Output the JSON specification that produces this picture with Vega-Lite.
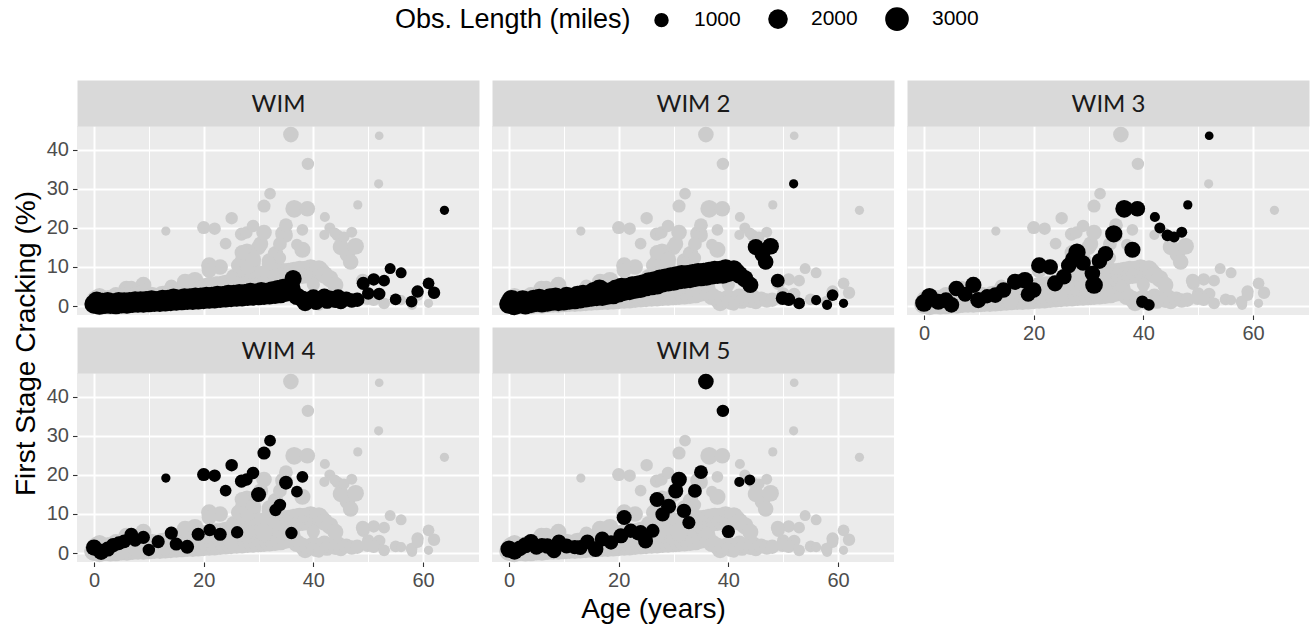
{
"$schema": "https://vega.github.io/schema/vega-lite/v6.json",
"padding": {"left": 12, "top": 6, "right": 5, "bottom": 5},
"datasets": {"pts": [
{"g":"WIM","age":0,"crack":0.5,"miles":1900},{"g":"WIM","age":0.5,"crack":1.2,"miles":2000},{"g":"WIM","age":1,"crack":0.3,"miles":2100},{"g":"WIM","age":1.5,"crack":0.9,"miles":2000},{"g":"WIM","age":2,"crack":0.4,"miles":1900},{"g":"WIM","age":2.5,"crack":1.1,"miles":2000},{"g":"WIM","age":3,"crack":0.5,"miles":2100},{"g":"WIM","age":3.5,"crack":0.8,"miles":1900},{"g":"WIM","age":4,"crack":0.4,"miles":2000},{"g":"WIM","age":4.5,"crack":1.0,"miles":2100},{"g":"WIM","age":5,"crack":0.6,"miles":2000},{"g":"WIM","age":5.5,"crack":1.1,"miles":1900},{"g":"WIM","age":6,"crack":0.5,"miles":2000},{"g":"WIM","age":6.5,"crack":1.0,"miles":2100},{"g":"WIM","age":7,"crack":0.7,"miles":2000},{"g":"WIM","age":7.5,"crack":1.3,"miles":1900},{"g":"WIM","age":8,"crack":0.8,"miles":2000},{"g":"WIM","age":8.5,"crack":1.2,"miles":2100},{"g":"WIM","age":9,"crack":0.8,"miles":2000},{"g":"WIM","age":9.5,"crack":1.4,"miles":1900},{"g":"WIM","age":10,"crack":0.9,"miles":2000},{"g":"WIM","age":10.5,"crack":1.5,"miles":2100},{"g":"WIM","age":11,"crack":1.0,"miles":2000},{"g":"WIM","age":11.5,"crack":1.4,"miles":1900},{"g":"WIM","age":12,"crack":1.0,"miles":2000},{"g":"WIM","age":12.5,"crack":1.6,"miles":2100},{"g":"WIM","age":13,"crack":1.1,"miles":2000},{"g":"WIM","age":13.5,"crack":1.7,"miles":1900},{"g":"WIM","age":14,"crack":1.2,"miles":2000},{"g":"WIM","age":14.5,"crack":1.9,"miles":2100},{"g":"WIM","age":15,"crack":1.3,"miles":2000},{"g":"WIM","age":15.5,"crack":1.8,"miles":1900},{"g":"WIM","age":16,"crack":1.4,"miles":2000},{"g":"WIM","age":16.5,"crack":2.0,"miles":2100},{"g":"WIM","age":17,"crack":1.5,"miles":2000},{"g":"WIM","age":17.5,"crack":2.1,"miles":1900},{"g":"WIM","age":18,"crack":1.5,"miles":2000},{"g":"WIM","age":18.5,"crack":2.2,"miles":2100},{"g":"WIM","age":19,"crack":1.6,"miles":2000},{"g":"WIM","age":19.5,"crack":2.3,"miles":1900},{"g":"WIM","age":20,"crack":1.7,"miles":2000},{"g":"WIM","age":20.5,"crack":2.4,"miles":2100},{"g":"WIM","age":21,"crack":1.8,"miles":2000},{"g":"WIM","age":21.5,"crack":2.5,"miles":1900},{"g":"WIM","age":22,"crack":1.9,"miles":2000},{"g":"WIM","age":22.5,"crack":2.6,"miles":2100},{"g":"WIM","age":23,"crack":2.0,"miles":2000},{"g":"WIM","age":23.5,"crack":2.7,"miles":1900},{"g":"WIM","age":24,"crack":2.1,"miles":2000},{"g":"WIM","age":24.5,"crack":2.9,"miles":2100},{"g":"WIM","age":25,"crack":2.2,"miles":2000},{"g":"WIM","age":25.5,"crack":3.0,"miles":1900},{"g":"WIM","age":26,"crack":2.3,"miles":2000},{"g":"WIM","age":26.5,"crack":3.1,"miles":2100},{"g":"WIM","age":27,"crack":2.4,"miles":2000},{"g":"WIM","age":27.5,"crack":3.2,"miles":1900},{"g":"WIM","age":28,"crack":2.5,"miles":2000},{"g":"WIM","age":28.5,"crack":3.4,"miles":2100},{"g":"WIM","age":29,"crack":2.6,"miles":2000},{"g":"WIM","age":29.5,"crack":3.3,"miles":1900},{"g":"WIM","age":30,"crack":2.7,"miles":2000},{"g":"WIM","age":30.5,"crack":3.6,"miles":2100},{"g":"WIM","age":31,"crack":2.8,"miles":2000},{"g":"WIM","age":31.5,"crack":3.5,"miles":1900},{"g":"WIM","age":32,"crack":2.9,"miles":2000},{"g":"WIM","age":32.5,"crack":3.8,"miles":2100},{"g":"WIM","age":33,"crack":3.0,"miles":2000},{"g":"WIM","age":33.5,"crack":4.2,"miles":1900},{"g":"WIM","age":34,"crack":3.2,"miles":2000},{"g":"WIM","age":34.5,"crack":4.5,"miles":1900},{"g":"WIM","age":35,"crack":3.5,"miles":1800},{"g":"WIM","age":36,"crack":4.6,"miles":1700},{"g":"WIM","age":36.3,"crack":7.0,"miles":1500},{"g":"WIM","age":37,"crack":2.5,"miles":1600},{"g":"WIM","age":38,"crack":1.8,"miles":1500},{"g":"WIM","age":38.5,"crack":0.8,"miles":1400},{"g":"WIM","age":39,"crack":1.5,"miles":1400},{"g":"WIM","age":40,"crack":2.2,"miles":1300},{"g":"WIM","age":40.5,"crack":1.0,"miles":1200},{"g":"WIM","age":41,"crack":1.8,"miles":1300},{"g":"WIM","age":42,"crack":2.5,"miles":1200},{"g":"WIM","age":42.5,"crack":1.2,"miles":1100},{"g":"WIM","age":43,"crack":2.0,"miles":1200},{"g":"WIM","age":44,"crack":1.4,"miles":1100},{"g":"WIM","age":44.5,"crack":2.3,"miles":1200},{"g":"WIM","age":45,"crack":1.0,"miles":1000},{"g":"WIM","age":46,"crack":1.8,"miles":1100},{"g":"WIM","age":47,"crack":1.4,"miles":1000},{"g":"WIM","age":48,"crack":1.6,"miles":1000},{"g":"WIM","age":49.1,"crack":5.8,"miles":800},{"g":"WIM","age":50,"crack":3.2,"miles":700},{"g":"WIM","age":51,"crack":6.8,"miles":700},{"g":"WIM","age":52,"crack":3.1,"miles":700},{"g":"WIM","age":52.9,"crack":6.5,"miles":600},{"g":"WIM","age":54,"crack":9.6,"miles":500},{"g":"WIM","age":55,"crack":1.7,"miles":600},{"g":"WIM","age":56,"crack":8.5,"miles":500},{"g":"WIM","age":57.9,"crack":1.1,"miles":600},{"g":"WIM","age":59,"crack":3.7,"miles":700},{"g":"WIM","age":61,"crack":5.8,"miles":600},{"g":"WIM","age":62,"crack":3.4,"miles":700},{"g":"WIM","age":63.9,"crack":24.5,"miles":300},
{"g":"WIM 2","age":0,"crack":0.5,"miles":2000},{"g":"WIM 2","age":0.5,"crack":1.5,"miles":2200},{"g":"WIM 2","age":1,"crack":0.2,"miles":2100},{"g":"WIM 2","age":1.5,"crack":1.0,"miles":2300},{"g":"WIM 2","age":2,"crack":0.6,"miles":2000},{"g":"WIM 2","age":2.5,"crack":1.4,"miles":2200},{"g":"WIM 2","age":3,"crack":0.4,"miles":2100},{"g":"WIM 2","age":3.5,"crack":1.2,"miles":2000},{"g":"WIM 2","age":4,"crack":0.8,"miles":2200},{"g":"WIM 2","age":4.5,"crack":1.6,"miles":2100},{"g":"WIM 2","age":5,"crack":1.0,"miles":2000},{"g":"WIM 2","age":5.5,"crack":1.8,"miles":2200},{"g":"WIM 2","age":6,"crack":0.9,"miles":2100},{"g":"WIM 2","age":6.5,"crack":1.5,"miles":2000},{"g":"WIM 2","age":7,"crack":1.1,"miles":2100},{"g":"WIM 2","age":7.5,"crack":1.9,"miles":2200},{"g":"WIM 2","age":8,"crack":1.3,"miles":2000},{"g":"WIM 2","age":8.5,"crack":2.2,"miles":2100},{"g":"WIM 2","age":9,"crack":1.2,"miles":2000},{"g":"WIM 2","age":9.5,"crack":1.8,"miles":2100},{"g":"WIM 2","age":10,"crack":1.5,"miles":2200},{"g":"WIM 2","age":10.5,"crack":2.4,"miles":2000},{"g":"WIM 2","age":11,"crack":1.6,"miles":2100},{"g":"WIM 2","age":11.5,"crack":2.2,"miles":2000},{"g":"WIM 2","age":12,"crack":1.8,"miles":2200},{"g":"WIM 2","age":12.5,"crack":2.6,"miles":2100},{"g":"WIM 2","age":13,"crack":1.9,"miles":2000},{"g":"WIM 2","age":13.5,"crack":2.8,"miles":2200},{"g":"WIM 2","age":14,"crack":2.1,"miles":2000},{"g":"WIM 2","age":14.5,"crack":2.6,"miles":2100},{"g":"WIM 2","age":15,"crack":2.3,"miles":2000},{"g":"WIM 2","age":15.5,"crack":3.5,"miles":2300},{"g":"WIM 2","age":16,"crack":2.5,"miles":2100},{"g":"WIM 2","age":16.5,"crack":4.2,"miles":2200},{"g":"WIM 2","age":17,"crack":2.6,"miles":2200},{"g":"WIM 2","age":17.5,"crack":3.4,"miles":2000},{"g":"WIM 2","age":18,"crack":2.9,"miles":2100},{"g":"WIM 2","age":18.5,"crack":3.6,"miles":2000},{"g":"WIM 2","age":19,"crack":3.1,"miles":2200},{"g":"WIM 2","age":19.5,"crack":4.2,"miles":2100},{"g":"WIM 2","age":20,"crack":3.4,"miles":2000},{"g":"WIM 2","age":20.5,"crack":4.6,"miles":2200},{"g":"WIM 2","age":21,"crack":3.8,"miles":2000},{"g":"WIM 2","age":21.5,"crack":4.6,"miles":2100},{"g":"WIM 2","age":22,"crack":4.0,"miles":2000},{"g":"WIM 2","age":22.5,"crack":5.0,"miles":2200},{"g":"WIM 2","age":23,"crack":4.4,"miles":2100},{"g":"WIM 2","age":23.5,"crack":5.3,"miles":2000},{"g":"WIM 2","age":24,"crack":4.7,"miles":2200},{"g":"WIM 2","age":24.5,"crack":5.6,"miles":2100},{"g":"WIM 2","age":25,"crack":5.0,"miles":2000},{"g":"WIM 2","age":25.5,"crack":6.0,"miles":2200},{"g":"WIM 2","age":26,"crack":5.3,"miles":2100},{"g":"WIM 2","age":26.5,"crack":6.4,"miles":2000},{"g":"WIM 2","age":27,"crack":5.6,"miles":2200},{"g":"WIM 2","age":27.5,"crack":6.8,"miles":2100},{"g":"WIM 2","age":28,"crack":6.0,"miles":2000},{"g":"WIM 2","age":28.5,"crack":7.0,"miles":2200},{"g":"WIM 2","age":29,"crack":6.3,"miles":2100},{"g":"WIM 2","age":29.5,"crack":7.4,"miles":2000},{"g":"WIM 2","age":30,"crack":6.5,"miles":2200},{"g":"WIM 2","age":30.5,"crack":7.6,"miles":2100},{"g":"WIM 2","age":31,"crack":6.8,"miles":2000},{"g":"WIM 2","age":31.5,"crack":7.9,"miles":2200},{"g":"WIM 2","age":32,"crack":7.0,"miles":2100},{"g":"WIM 2","age":32.5,"crack":8.0,"miles":2000},{"g":"WIM 2","age":33,"crack":7.2,"miles":2200},{"g":"WIM 2","age":33.5,"crack":8.2,"miles":2100},{"g":"WIM 2","age":34,"crack":7.4,"miles":2000},{"g":"WIM 2","age":34.5,"crack":8.4,"miles":2200},{"g":"WIM 2","age":35,"crack":7.6,"miles":2100},{"g":"WIM 2","age":35.5,"crack":8.6,"miles":2000},{"g":"WIM 2","age":36,"crack":7.8,"miles":2200},{"g":"WIM 2","age":36.5,"crack":8.8,"miles":2100},{"g":"WIM 2","age":37,"crack":8.0,"miles":2000},{"g":"WIM 2","age":37.5,"crack":9.0,"miles":2200},{"g":"WIM 2","age":38,"crack":8.2,"miles":2100},{"g":"WIM 2","age":38.5,"crack":9.1,"miles":2000},{"g":"WIM 2","age":39,"crack":8.3,"miles":2200},{"g":"WIM 2","age":39.5,"crack":9.4,"miles":2100},{"g":"WIM 2","age":40,"crack":8.6,"miles":2000},{"g":"WIM 2","age":40.5,"crack":9.0,"miles":1900},{"g":"WIM 2","age":41,"crack":9.3,"miles":1800},{"g":"WIM 2","age":41.5,"crack":8.6,"miles":1700},{"g":"WIM 2","age":42,"crack":8.0,"miles":1600},{"g":"WIM 2","age":43,"crack":7.0,"miles":1500},{"g":"WIM 2","age":44,"crack":5.4,"miles":1300},{"g":"WIM 2","age":45,"crack":15.1,"miles":1300},{"g":"WIM 2","age":46.2,"crack":13.2,"miles":1200},{"g":"WIM 2","age":46.8,"crack":11.3,"miles":1200},{"g":"WIM 2","age":47.7,"crack":15.3,"miles":1400},{"g":"WIM 2","age":49,"crack":6.5,"miles":900},{"g":"WIM 2","age":49.9,"crack":2.0,"miles":900},{"g":"WIM 2","age":51,"crack":1.7,"miles":800},{"g":"WIM 2","age":51.9,"crack":31.3,"miles":300},{"g":"WIM 2","age":52.9,"crack":0.7,"miles":600},{"g":"WIM 2","age":56,"crack":1.5,"miles":400},{"g":"WIM 2","age":58,"crack":0.3,"miles":400},{"g":"WIM 2","age":59,"crack":2.8,"miles":600},{"g":"WIM 2","age":61,"crack":0.7,"miles":300},
{"g":"WIM 3","age":0,"crack":0.8,"miles":1600},{"g":"WIM 3","age":1,"crack":2.4,"miles":1500},{"g":"WIM 3","age":2.6,"crack":1.1,"miles":1300},{"g":"WIM 3","age":4,"crack":1.5,"miles":1200},{"g":"WIM 3","age":5,"crack":0.3,"miles":1200},{"g":"WIM 3","age":5.9,"crack":4.5,"miles":1200},{"g":"WIM 3","age":7.5,"crack":3.0,"miles":1100},{"g":"WIM 3","age":9,"crack":5.4,"miles":1300},{"g":"WIM 3","age":9.9,"crack":1.5,"miles":1300},{"g":"WIM 3","age":11.5,"crack":2.5,"miles":1000},{"g":"WIM 3","age":13,"crack":2.8,"miles":1200},{"g":"WIM 3","age":14.5,"crack":4.1,"miles":1200},{"g":"WIM 3","age":16.6,"crack":6.2,"miles":1300},{"g":"WIM 3","age":18.4,"crack":6.6,"miles":1400},{"g":"WIM 3","age":19,"crack":3.0,"miles":1100},{"g":"WIM 3","age":20,"crack":4.1,"miles":1200},{"g":"WIM 3","age":21,"crack":10.4,"miles":1300},{"g":"WIM 3","age":23,"crack":10.0,"miles":1200},{"g":"WIM 3","age":23.9,"crack":5.8,"miles":1300},{"g":"WIM 3","age":25.5,"crack":7.5,"miles":1200},{"g":"WIM 3","age":26.4,"crack":10.4,"miles":1200},{"g":"WIM 3","age":27.2,"crack":12.0,"miles":1300},{"g":"WIM 3","age":27.9,"crack":13.8,"miles":1500},{"g":"WIM 3","age":29,"crack":11.0,"miles":1200},{"g":"WIM 3","age":30.7,"crack":8.3,"miles":1200},{"g":"WIM 3","age":31,"crack":5.4,"miles":1600},{"g":"WIM 3","age":32,"crack":11.5,"miles":1200},{"g":"WIM 3","age":33.1,"crack":13.4,"miles":1200},{"g":"WIM 3","age":34.6,"crack":18.5,"miles":1500},{"g":"WIM 3","age":36.5,"crack":24.9,"miles":1600},{"g":"WIM 3","age":38,"crack":14.4,"miles":1300},{"g":"WIM 3","age":38.9,"crack":24.9,"miles":1200},{"g":"WIM 3","age":39.8,"crack":1.1,"miles":700},{"g":"WIM 3","age":41,"crack":0.3,"miles":600},{"g":"WIM 3","age":42.1,"crack":22.8,"miles":400},{"g":"WIM 3","age":43,"crack":20.0,"miles":500},{"g":"WIM 3","age":44.4,"crack":18.1,"miles":600},{"g":"WIM 3","age":45.6,"crack":17.7,"miles":500},{"g":"WIM 3","age":47,"crack":18.9,"miles":500},{"g":"WIM 3","age":48.1,"crack":25.9,"miles":300},{"g":"WIM 3","age":52,"crack":43.6,"miles":250},
{"g":"WIM 4","age":0,"crack":1.4,"miles":1300},{"g":"WIM 4","age":1.3,"crack":0.3,"miles":1300},{"g":"WIM 4","age":2.5,"crack":1.0,"miles":1100},{"g":"WIM 4","age":3.5,"crack":2.0,"miles":1000},{"g":"WIM 4","age":4.5,"crack":2.5,"miles":900},{"g":"WIM 4","age":5.5,"crack":3.0,"miles":900},{"g":"WIM 4","age":6.8,"crack":4.7,"miles":900},{"g":"WIM 4","age":7.5,"crack":3.3,"miles":800},{"g":"WIM 4","age":9,"crack":4.0,"miles":800},{"g":"WIM 4","age":10,"crack":0.8,"miles":700},{"g":"WIM 4","age":11.7,"crack":2.9,"miles":800},{"g":"WIM 4","age":13.1,"crack":19.2,"miles":300},{"g":"WIM 4","age":14.1,"crack":5.1,"miles":800},{"g":"WIM 4","age":15,"crack":2.3,"miles":800},{"g":"WIM 4","age":17,"crack":1.6,"miles":900},{"g":"WIM 4","age":19,"crack":4.8,"miles":800},{"g":"WIM 4","age":20,"crack":20.1,"miles":800},{"g":"WIM 4","age":21.1,"crack":5.9,"miles":700},{"g":"WIM 4","age":22,"crack":19.8,"miles":700},{"g":"WIM 4","age":23,"crack":4.8,"miles":800},{"g":"WIM 4","age":24,"crack":16.0,"miles":600},{"g":"WIM 4","age":25.1,"crack":22.5,"miles":700},{"g":"WIM 4","age":26.1,"crack":5.3,"miles":700},{"g":"WIM 4","age":26.9,"crack":18.4,"miles":800},{"g":"WIM 4","age":27.8,"crack":18.8,"miles":700},{"g":"WIM 4","age":29,"crack":20.5,"miles":700},{"g":"WIM 4","age":30,"crack":15.0,"miles":1100},{"g":"WIM 4","age":31,"crack":25.6,"miles":800},{"g":"WIM 4","age":32.1,"crack":28.8,"miles":600},{"g":"WIM 4","age":33.1,"crack":11.0,"miles":700},{"g":"WIM 4","age":33.9,"crack":12.3,"miles":700},{"g":"WIM 4","age":35,"crack":18.0,"miles":900},{"g":"WIM 4","age":36,"crack":5.1,"miles":700},{"g":"WIM 4","age":37,"crack":15.7,"miles":600},{"g":"WIM 4","age":38,"crack":19.5,"miles":600},
{"g":"WIM 5","age":0,"crack":1.0,"miles":1500},{"g":"WIM 5","age":1,"crack":0.4,"miles":1400},{"g":"WIM 5","age":2,"crack":1.2,"miles":1200},{"g":"WIM 5","age":3,"crack":2.0,"miles":1300},{"g":"WIM 5","age":4,"crack":2.9,"miles":1200},{"g":"WIM 5","age":5,"crack":1.5,"miles":1100},{"g":"WIM 5","age":6,"crack":2.0,"miles":1000},{"g":"WIM 5","age":7,"crack":1.8,"miles":1200},{"g":"WIM 5","age":8.2,"crack":0.6,"miles":1100},{"g":"WIM 5","age":9.1,"crack":2.9,"miles":1000},{"g":"WIM 5","age":10.5,"crack":1.8,"miles":1100},{"g":"WIM 5","age":12,"crack":1.5,"miles":1000},{"g":"WIM 5","age":13,"crack":1.4,"miles":1100},{"g":"WIM 5","age":14.3,"crack":2.9,"miles":1000},{"g":"WIM 5","age":15.8,"crack":1.0,"miles":1200},{"g":"WIM 5","age":17,"crack":3.6,"miles":1100},{"g":"WIM 5","age":18.6,"crack":2.7,"miles":1000},{"g":"WIM 5","age":20.4,"crack":4.4,"miles":1100},{"g":"WIM 5","age":21,"crack":9.1,"miles":1100},{"g":"WIM 5","age":22.2,"crack":5.7,"miles":1000},{"g":"WIM 5","age":23.5,"crack":5.0,"miles":900},{"g":"WIM 5","age":24,"crack":5.3,"miles":1000},{"g":"WIM 5","age":24.9,"crack":3.1,"miles":1100},{"g":"WIM 5","age":26.2,"crack":5.7,"miles":900},{"g":"WIM 5","age":27,"crack":13.7,"miles":1100},{"g":"WIM 5","age":28,"crack":9.9,"miles":1000},{"g":"WIM 5","age":29.1,"crack":12.0,"miles":1100},{"g":"WIM 5","age":30.4,"crack":15.9,"miles":1100},{"g":"WIM 5","age":31,"crack":18.8,"miles":1200},{"g":"WIM 5","age":31.9,"crack":10.8,"miles":1000},{"g":"WIM 5","age":32.8,"crack":7.8,"miles":800},{"g":"WIM 5","age":33.9,"crack":15.9,"miles":900},{"g":"WIM 5","age":35,"crack":20.7,"miles":900},{"g":"WIM 5","age":35.9,"crack":43.9,"miles":1200},{"g":"WIM 5","age":39,"crack":36.4,"miles":700},{"g":"WIM 5","age":40,"crack":5.5,"miles":800},{"g":"WIM 5","age":42,"crack":18.2,"miles":400},{"g":"WIM 5","age":43.9,"crack":18.7,"miles":500}
]},
"columns": 3,
"spacing": {"row": 58, "column": 13},
"bounds": "flush",
"resolve": {"scale": {"size": "shared"}, "legend": {"size": "shared"}},
"concat": [
{"width": 402, "height": 189, "resolve": {"axis": {"x": "independent"}}, "layer": [
 {"data": {"name": "pts"}, "mark": {"type": "circle", "opacity": 1}, "encoding": {
  "x": {"field": "age", "type": "quantitative", "scale": {"domain": [-3.1, 70.2], "nice": false, "zero": false}, "axis": {"values": [0,10,20,30,40,50,60], "grid": true, "gridWidth": {"condition": {"test": "datum.value % 20 === 0", "value": 2}, "value": 1}, "labels": false, "ticks": false, "title": null}},
  "y": {"field": "crack", "type": "quantitative", "scale": {"domain": [-2.3, 46.1], "nice": false, "zero": false}, "axis": {"values": [0,5,10,15,20,25,30,35,40,45], "grid": true, "gridWidth": {"condition": {"test": "datum.value % 10 === 0", "value": 2}, "value": 1}, "labelExpr": "datum.value % 10 === 0 ? datum.label : ''", "tickOpacity": {"condition": {"test": "datum.value % 10 === 0", "value": 1}, "value": 0}, "title": "First Stage Cracking (%)", "titleY": 217, "titlePadding": 6}},
  "color": {"field": "g", "type": "nominal", "scale": {"range": ["#CCCCCC"]}, "legend": null},
  "size": {"field": "miles", "type": "quantitative", "title": "Obs. Length (miles)", "scale": {"domain": [0, 3000], "range": [32, 560]}, "legend": {"values": [1000, 2000, 3000], "format": "d", "orient": "none", "legendX": 318, "legendY": -120, "direction": "horizontal", "titleOrient": "left", "titleLimit": 600, "titlePadding": 20, "labelOffset": 22, "columnPadding": 24, "symbolFillColor": "#000000", "symbolStrokeColor": "#000000", "symbolOpacity": 1}}}},
 {"data": {"name": "pts"}, "transform": [{"filter": "datum.g === 'WIM'"}], "mark": {"type": "circle", "opacity": 1, "color": "#000000"}, "encoding": {
  "x": {"field": "age", "type": "quantitative", "scale": {"domain": [-3.1, 70.2], "nice": false, "zero": false}, "axis": {"orient": "top", "offset": 23, "domain": true, "domainWidth": 46, "domainColor": "#D9D9D9", "ticks": false, "labels": false, "grid": false, "title": "WIM", "titleFont": "Lato", "titleFontSize": 24, "titleColor": "#1A1A1A", "titleBaseline": "middle", "titleY": 1}},
  "y": {"field": "crack", "type": "quantitative", "scale": {"domain": [-2.3, 46.1], "nice": false, "zero": false}},
  "size": {"field": "miles", "type": "quantitative", "title": "Obs. Length (miles)", "scale": {"domain": [0, 3000], "range": [32, 560]}}}}
]},
{"width": 402, "height": 189, "resolve": {"axis": {"x": "independent"}}, "layer": [
 {"data": {"name": "pts"}, "mark": {"type": "circle", "opacity": 1}, "encoding": {
  "x": {"field": "age", "type": "quantitative", "scale": {"domain": [-3.1, 70.2], "nice": false, "zero": false}, "axis": {"values": [0,10,20,30,40,50,60], "grid": true, "gridWidth": {"condition": {"test": "datum.value % 20 === 0", "value": 2}, "value": 1}, "labels": false, "ticks": false, "title": null}},
  "y": {"field": "crack", "type": "quantitative", "scale": {"domain": [-2.3, 46.1], "nice": false, "zero": false}, "axis": {"values": [0,5,10,15,20,25,30,35,40,45], "grid": true, "gridWidth": {"condition": {"test": "datum.value % 10 === 0", "value": 2}, "value": 1}, "labels": false, "ticks": false, "title": null}},
  "color": {"field": "g", "type": "nominal", "scale": {"range": ["#CCCCCC"]}, "legend": null},
  "size": {"field": "miles", "type": "quantitative", "title": "Obs. Length (miles)", "scale": {"domain": [0, 3000], "range": [32, 560]}}}},
 {"data": {"name": "pts"}, "transform": [{"filter": "datum.g === 'WIM 2'"}], "mark": {"type": "circle", "opacity": 1, "color": "#000000"}, "encoding": {
  "x": {"field": "age", "type": "quantitative", "scale": {"domain": [-3.1, 70.2], "nice": false, "zero": false}, "axis": {"orient": "top", "offset": 23, "domain": true, "domainWidth": 46, "domainColor": "#D9D9D9", "ticks": false, "labels": false, "grid": false, "title": "WIM 2", "titleFont": "Lato", "titleFontSize": 24, "titleColor": "#1A1A1A", "titleBaseline": "middle", "titleY": 1}},
  "y": {"field": "crack", "type": "quantitative", "scale": {"domain": [-2.3, 46.1], "nice": false, "zero": false}},
  "size": {"field": "miles", "type": "quantitative", "title": "Obs. Length (miles)", "scale": {"domain": [0, 3000], "range": [32, 560]}}}}
]},
{"width": 402, "height": 189, "resolve": {"axis": {"x": "independent"}}, "layer": [
 {"data": {"name": "pts"}, "mark": {"type": "circle", "opacity": 1}, "encoding": {
  "x": {"field": "age", "type": "quantitative", "scale": {"domain": [-3.1, 70.2], "nice": false, "zero": false}, "axis": {"values": [0,10,20,30,40,50,60], "grid": true, "gridWidth": {"condition": {"test": "datum.value % 20 === 0", "value": 2}, "value": 1}, "labelExpr": "datum.value % 20 === 0 ? datum.label : ''", "tickOpacity": {"condition": {"test": "datum.value % 20 === 0", "value": 1}, "value": 0}, "title": null}},
  "y": {"field": "crack", "type": "quantitative", "scale": {"domain": [-2.3, 46.1], "nice": false, "zero": false}, "axis": {"values": [0,5,10,15,20,25,30,35,40,45], "grid": true, "gridWidth": {"condition": {"test": "datum.value % 10 === 0", "value": 2}, "value": 1}, "labels": false, "ticks": false, "title": null}},
  "color": {"field": "g", "type": "nominal", "scale": {"range": ["#CCCCCC"]}, "legend": null},
  "size": {"field": "miles", "type": "quantitative", "title": "Obs. Length (miles)", "scale": {"domain": [0, 3000], "range": [32, 560]}}}},
 {"data": {"name": "pts"}, "transform": [{"filter": "datum.g === 'WIM 3'"}], "mark": {"type": "circle", "opacity": 1, "color": "#000000"}, "encoding": {
  "x": {"field": "age", "type": "quantitative", "scale": {"domain": [-3.1, 70.2], "nice": false, "zero": false}, "axis": {"orient": "top", "offset": 23, "domain": true, "domainWidth": 46, "domainColor": "#D9D9D9", "ticks": false, "labels": false, "grid": false, "title": "WIM 3", "titleFont": "Lato", "titleFontSize": 24, "titleColor": "#1A1A1A", "titleBaseline": "middle", "titleY": 1}},
  "y": {"field": "crack", "type": "quantitative", "scale": {"domain": [-2.3, 46.1], "nice": false, "zero": false}},
  "size": {"field": "miles", "type": "quantitative", "title": "Obs. Length (miles)", "scale": {"domain": [0, 3000], "range": [32, 560]}}}}
]},
{"width": 402, "height": 189, "resolve": {"axis": {"x": "independent"}}, "layer": [
 {"data": {"name": "pts"}, "mark": {"type": "circle", "opacity": 1}, "encoding": {
  "x": {"field": "age", "type": "quantitative", "scale": {"domain": [-3.1, 70.2], "nice": false, "zero": false}, "axis": {"values": [0,10,20,30,40,50,60], "grid": true, "gridWidth": {"condition": {"test": "datum.value % 20 === 0", "value": 2}, "value": 1}, "labelExpr": "datum.value % 20 === 0 ? datum.label : ''", "tickOpacity": {"condition": {"test": "datum.value % 20 === 0", "value": 1}, "value": 0}, "title": null}},
  "y": {"field": "crack", "type": "quantitative", "scale": {"domain": [-2.3, 46.1], "nice": false, "zero": false}, "axis": {"values": [0,5,10,15,20,25,30,35,40,45], "grid": true, "gridWidth": {"condition": {"test": "datum.value % 10 === 0", "value": 2}, "value": 1}, "labelExpr": "datum.value % 10 === 0 ? datum.label : ''", "tickOpacity": {"condition": {"test": "datum.value % 10 === 0", "value": 1}, "value": 0}, "title": null}},
  "color": {"field": "g", "type": "nominal", "scale": {"range": ["#CCCCCC"]}, "legend": null},
  "size": {"field": "miles", "type": "quantitative", "title": "Obs. Length (miles)", "scale": {"domain": [0, 3000], "range": [32, 560]}}}},
 {"data": {"name": "pts"}, "transform": [{"filter": "datum.g === 'WIM 4'"}], "mark": {"type": "circle", "opacity": 1, "color": "#000000"}, "encoding": {
  "x": {"field": "age", "type": "quantitative", "scale": {"domain": [-3.1, 70.2], "nice": false, "zero": false}, "axis": {"orient": "top", "offset": 23, "domain": true, "domainWidth": 46, "domainColor": "#D9D9D9", "ticks": false, "labels": false, "grid": false, "title": "WIM 4", "titleFont": "Lato", "titleFontSize": 24, "titleColor": "#1A1A1A", "titleBaseline": "middle", "titleY": 1}},
  "y": {"field": "crack", "type": "quantitative", "scale": {"domain": [-2.3, 46.1], "nice": false, "zero": false}},
  "size": {"field": "miles", "type": "quantitative", "title": "Obs. Length (miles)", "scale": {"domain": [0, 3000], "range": [32, 560]}}}}
]},
{"width": 402, "height": 189, "resolve": {"axis": {"x": "independent"}}, "layer": [
 {"data": {"name": "pts"}, "mark": {"type": "circle", "opacity": 1}, "encoding": {
  "x": {"field": "age", "type": "quantitative", "scale": {"domain": [-3.1, 70.2], "nice": false, "zero": false}, "axis": {"values": [0,10,20,30,40,50,60], "grid": true, "gridWidth": {"condition": {"test": "datum.value % 20 === 0", "value": 2}, "value": 1}, "labelExpr": "datum.value % 20 === 0 ? datum.label : ''", "tickOpacity": {"condition": {"test": "datum.value % 20 === 0", "value": 1}, "value": 0}, "title": "Age (years)", "titleX": 161, "titlePadding": 5}},
  "y": {"field": "crack", "type": "quantitative", "scale": {"domain": [-2.3, 46.1], "nice": false, "zero": false}, "axis": {"values": [0,5,10,15,20,25,30,35,40,45], "grid": true, "gridWidth": {"condition": {"test": "datum.value % 10 === 0", "value": 2}, "value": 1}, "labels": false, "ticks": false, "title": null}},
  "color": {"field": "g", "type": "nominal", "scale": {"range": ["#CCCCCC"]}, "legend": null},
  "size": {"field": "miles", "type": "quantitative", "title": "Obs. Length (miles)", "scale": {"domain": [0, 3000], "range": [32, 560]}}}},
 {"data": {"name": "pts"}, "transform": [{"filter": "datum.g === 'WIM 5'"}], "mark": {"type": "circle", "opacity": 1, "color": "#000000"}, "encoding": {
  "x": {"field": "age", "type": "quantitative", "scale": {"domain": [-3.1, 70.2], "nice": false, "zero": false}, "axis": {"orient": "top", "offset": 23, "domain": true, "domainWidth": 46, "domainColor": "#D9D9D9", "ticks": false, "labels": false, "grid": false, "title": "WIM 5", "titleFont": "Lato", "titleFontSize": 24, "titleColor": "#1A1A1A", "titleBaseline": "middle", "titleY": 1}},
  "y": {"field": "crack", "type": "quantitative", "scale": {"domain": [-2.3, 46.1], "nice": false, "zero": false}},
  "size": {"field": "miles", "type": "quantitative", "title": "Obs. Length (miles)", "scale": {"domain": [0, 3000], "range": [32, 560]}}}}
]}
],
"config": {
 "view": {"fill": "#EBEBEB", "stroke": null},
 "font": "Liberation Sans",
 "axis": {"domain": false, "tickColor": "#333333", "tickSize": 4.5, "tickWidth": 1.1, "labelFont": "Liberation Sans", "labelFontSize": 20, "labelColor": "#4D4D4D", "labelPadding": 4, "gridColor": "#FFFFFF", "titleFont": "Liberation Sans", "titleFontSize": 28, "titleFontWeight": "normal", "titleColor": "#000000"},
 "legend": {"titleFont": "Liberation Sans", "titleFontSize": 27, "titleFontWeight": "normal", "titleColor": "#000000", "labelFont": "Liberation Sans", "labelFontSize": 21, "labelColor": "#000000", "symbolBaseFillColor": "#000000"}
}
}
